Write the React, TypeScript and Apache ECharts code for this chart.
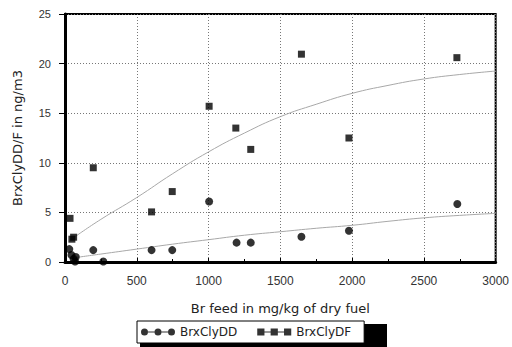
import React, { useEffect, useRef } from "react";
import * as echarts from "echarts";

const ddPoints: [number, number][] = [
  [30, 1.3], [45, 0.7], [60, 0.3], [75, 0.5], [70, 0.05], [197, 1.2], [267, 0.05],
  [603, 1.2], [747, 1.2], [1004, 6.1], [1195, 1.95], [1294, 1.95], [1647, 2.55],
  [1978, 3.15], [2733, 5.85],
];
const dfPoints: [number, number][] = [
  [35, 4.4], [48, 2.3], [60, 2.5], [197, 9.5], [603, 5.05], [747, 7.1], [1004, 15.7],
  [1190, 13.5], [1294, 11.35], [1647, 20.95], [1978, 12.5], [2730, 20.6],
];
const ddFit: [number, number][] = [
  [75, 0.45], [250, 0.8], [500, 1.3], [750, 1.8], [1000, 2.25], [1250, 2.7], [1500, 3.05],
  [1750, 3.4], [2000, 3.7], [2250, 4.1], [2500, 4.45], [2750, 4.7], [3000, 4.9],
];
const dfFit: [number, number][] = [
  [75, 2.6], [250, 4.3], [500, 6.5], [750, 8.9], [1000, 11.1], [1250, 13.0], [1500, 14.65],
  [1750, 15.9], [2000, 17.0], [2250, 17.8], [2500, 18.45], [2750, 18.9], [3000, 19.25],
];
const xTitle = "Br feed in mg/kg of dry fuel";
const yTitle = "BrxClyDD/F in ng/m3";
const seriesNames = ["BrxClyDD", "BrxClyDF"];

const circleIcon =
  "path://M0,4a3.5,3.5 0 1,0 7,0a3.5,3.5 0 1,0 -7,0zM13.5,4a3.5,3.5 0 1,0 7,0a3.5,3.5 0 1,0 -7,0zM27,4a3.5,3.5 0 1,0 7,0a3.5,3.5 0 1,0 -7,0zM7,3.5h6.5v1h-6.5zM20.5,3.5h6.5v1h-6.5z";
const squareIcon =
  "path://M0.5,0.5h7v7h-7zM13.5,0.5h7v7h-7zM26.5,0.5h7v7h-7zM7.5,3.5h6v1h-6zM20.5,3.5h6v1h-6z";

export default function App() {
  const ref = useRef<HTMLDivElement>(null);
  useEffect(() => {
    document.body.style.margin = "0";
    const chart = echarts.init(ref.current!, null, { renderer: "svg" });
    const font = "Liberation Sans, Arial, sans-serif";
    const wide = "DejaVu Sans, sans-serif";
    const splitLine = { show: true, lineStyle: { color: "#777", type: [1, 2] as any, width: 1 } };
    chart.setOption({
      animation: false,
      backgroundColor: "#fff",
      textStyle: { fontFamily: font },
      grid: {
        left: 65, right: 16, top: 14, bottom: 85,
        show: true, borderColor: "#000", borderWidth: 2,
      },
      xAxis: {
        type: "value", min: 0, max: 3000, interval: 500,
        name: xTitle, nameLocation: "middle", nameGap: 40,
        nameTextStyle: { fontSize: 13, color: "#222", fontFamily: wide },
        axisLine: { show: true, lineStyle: { color: "#000", width: 3 } },
        axisTick: { show: true, inside: true, length: 4, lineStyle: { color: "#000" } },
        minorTick: { show: true, splitNumber: 2, length: 3, lineStyle: { color: "#000" } },
        axisLabel: { fontSize: 12, color: "#333", margin: 13, formatter: (v: number) => String(v) },
        splitLine,
      },
      yAxis: {
        type: "value", min: 0, max: 25, interval: 5,
        name: yTitle, nameLocation: "middle", nameGap: 41, nameRotate: 90,
        nameTextStyle: { fontSize: 13, color: "#222", fontFamily: wide },
        axisLine: { show: true, lineStyle: { color: "#000", width: 3 } },
        axisTick: { show: true, inside: false, length: 6, lineStyle: { color: "#000" } },
        axisLabel: { fontSize: 11, color: "#333", margin: 14 },
        splitLine,
      },
      graphic: [
        { type: "rect", left: 140, top: 324, shape: { width: 247, height: 24 }, style: { fill: "#000" }, z: 1 },
      ],
      legend: {
        left: 137, top: 321,
        orient: "horizontal",
        padding: [5, 13, 5, 4],
        itemGap: 20, itemWidth: 34, itemHeight: 8,
        borderColor: "#000", borderWidth: 1, backgroundColor: "#fff",
        textStyle: { fontSize: 12, color: "#222", fontFamily: wide },
        data: [
          { name: seriesNames[0], icon: circleIcon },
          { name: seriesNames[1], icon: squareIcon },
        ],
        z: 5,
      },
      series: [
        {
          name: seriesNames[0] + " fit", type: "line", data: ddFit, smooth: true,
          showSymbol: false, lineStyle: { color: "#a8a8a8", width: 1 }, itemStyle: { color: "#a8a8a8" }, z: 1,
        },
        {
          name: seriesNames[1] + " fit", type: "line", data: dfFit, smooth: true,
          showSymbol: false, lineStyle: { color: "#a8a8a8", width: 1 }, itemStyle: { color: "#a8a8a8" }, z: 1,
        },
        {
          name: seriesNames[0], type: "scatter", data: ddPoints, symbol: "circle", symbolSize: 8,
          itemStyle: { color: "#000" }, z: 3,
        },
        {
          name: seriesNames[1], type: "scatter", data: dfPoints, symbol: "rect", symbolSize: 7,
          itemStyle: { color: "#000" }, z: 3,
        },
      ],
    });
    return () => chart.dispose();
  }, []);
  return <div ref={ref} style={{ width: 512, height: 347 }} />;
}
